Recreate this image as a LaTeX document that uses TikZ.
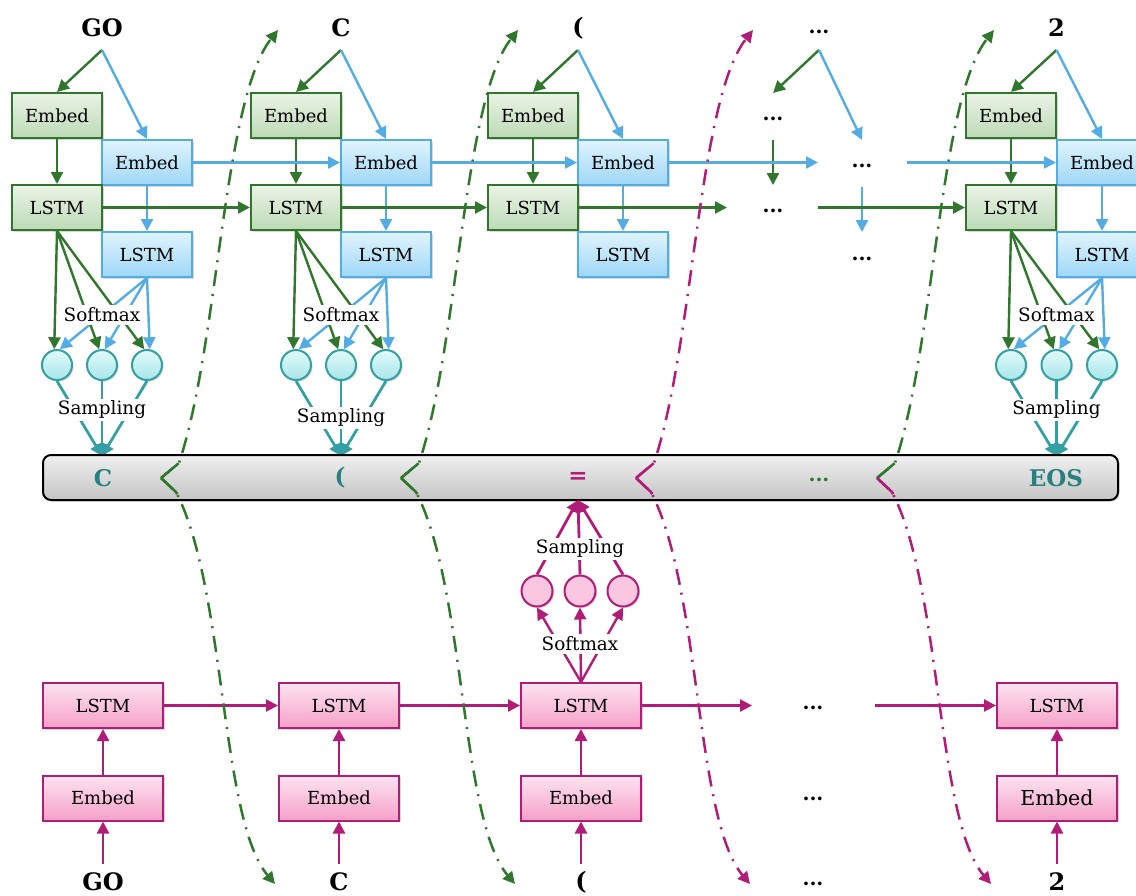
\documentclass[tikz,border=0pt]{standalone}
\usepackage{fontspec}
\setmainfont{DejaVu Serif}
\usetikzlibrary{arrows.meta,shadows}
\definecolor{gdark}{RGB}{48,118,45}
\definecolor{gtop}{RGB}{234,243,230}
\definecolor{gbot}{RGB}{188,218,182}
\definecolor{bline}{RGB}{84,172,228}
\definecolor{btop}{RGB}{224,244,254}
\definecolor{bbot}{RGB}{158,215,247}
\definecolor{tline}{RGB}{52,160,164}
\definecolor{ttop}{RGB}{226,250,250}
\definecolor{tbot}{RGB}{168,230,234}
\definecolor{ttxt}{RGB}{40,128,128}
\definecolor{mag}{RGB}{176,28,120}
\definecolor{ptop}{RGB}{253,228,240}
\definecolor{pbot}{RGB}{245,160,200}
\definecolor{pcirc}{RGB}{250,198,224}
\definecolor{bartop}{RGB}{240,240,240}
\definecolor{barbot}{RGB}{196,196,196}
\newcommand{\boxfont}{\fontsize{9}{11}\selectfont}
\newcommand{\topcol}[4]{%
  \node[lbl] (t#1) at ({(#2+#3)/2},28) {#4};
  \coordinate (ts#1) at ({(#2+#3)/2},50);
  \node[gbox] (ge#1) at (#2,115.5) {Embed};
  \node[bbox] (be#1) at (#3,162.5) {Embed};
  \node[gbox] (gl#1) at (#2,207.5) {LSTM};
  \node[bbox] (bl#1) at (#3,254.5) {LSTM};
  \draw[garr] (ts#1) -- (ge#1.north);
  \draw[barr] (ts#1) -- (be#1.north);
  \draw[garr] (ge#1) -- (gl#1);
  \draw[barr] (be#1) -- (bl#1);
}
\newcommand{\smcol}[4]{%
  \node[tcirc] (c#1a) at (#2,365) {};
  \node[tcirc] (c#1b) at ({(#2+#3)/2},365) {};
  \node[tcirc] (c#1c) at (#3,365) {};
  \coordinate (bt#1) at ({(#2+#3)/2},456);
  \foreach \nm in {a,b,c} {
    \draw[garr] (gl#1.south) -- (c#1\nm.100);
    \draw[barr] (bl#1.south) -- (c#1\nm.80);
    \draw[tarr] (c#1\nm.south) -- (bt#1);
  }
  \node[smx] (sm#1) at ({(#2+#3)/2},315) {Softmax};
  \node[smx] (sa#1) at ({(#2+#3)/2},#4) {Sampling};
}
\begin{document}
\begin{tikzpicture}[x=0.5pt,y=-0.5pt,
  shad/.style={drop shadow={opacity=0.3,shadow xshift=0.8pt,shadow yshift=-0.8pt}},
  gbox/.style={draw=gdark,line width=1pt,top color=gtop,bottom color=gbot,minimum width=45pt,minimum height=22.5pt,inner sep=0pt,font=\boxfont,shad},
  bbox/.style={draw=bline,line width=1pt,top color=btop,bottom color=bbot,minimum width=45pt,minimum height=22.5pt,inner sep=0pt,font=\boxfont,shad},
  pbox/.style={draw=mag,line width=1pt,top color=ptop,bottom color=pbot,minimum width=60pt,minimum height=22.5pt,inner sep=0pt,font=\boxfont,shad},
  tcirc/.style={circle,draw=tline,line width=1pt,top color=ttop,bottom color=tbot,minimum size=15pt,inner sep=0pt,shad},
  pcircs/.style={circle,draw=mag,line width=1pt,fill=pcirc,minimum size=15.5pt,inner sep=0pt,shad},
  tip/.style={-{Triangle[length=6pt,width=6pt]}},
  garr/.style={draw=gdark,line width=1.2pt,tip},
  barr/.style={draw=bline,line width=1.2pt,tip},
  tarr/.style={draw=tline,line width=1.4pt,tip},
  parr/.style={draw=mag,line width=1.2pt,tip},
  lbl/.style={font=\bfseries\fontsize{12}{14}\selectfont,inner sep=1pt},
  dots/.style={font=\bfseries\fontsize{10}{12}\selectfont,inner sep=1pt},
  smx/.style={fill=white,inner sep=1.2pt,font=\fontsize{9.2}{11}\selectfont},
  bartxt/.style={font=\bfseries\fontsize{11.5}{13}\selectfont,inner sep=1pt},
  curv/.style={line width=1.25pt,dash pattern=on 8pt off 4pt on 1pt off 4pt,tip},
  arm/.style={line width=1.25pt,dash pattern=on 11.5pt off 2000pt}
]
\clip (0,0) rectangle (1136,895);
\fill[white] (0,0) rectangle (1136,895);

% ---------- top encoder columns ----------
\topcol{1}{57}{147}{GO}
\topcol{2}{296}{386}{C}
\topcol{3}{533}{623}{(}
\topcol{5}{1011}{1102}{2}

% column of dots
\node[dots] (t4) at (819,32) {...};
\coordinate (ts4) at (819,50);
\coordinate (g4a) at (773,93);
\coordinate (b4a) at (862,140);
\node[dots] (gd4e) at (773,119) {...};
\node[dots] (bd4e) at (862,166) {...};
\node[dots] (gd4l) at (773,211) {...};
\node[dots] (bd4l) at (862,259) {...};
\coordinate (g4b) at (773,140);
\coordinate (g4c) at (773,185);
\coordinate (b4b) at (862,187);
\coordinate (b4c) at (862,232);
\draw[garr] (ts4) -- (g4a);
\draw[barr] (ts4) -- (b4a);
\draw[garr] (g4b) -- (g4c);
\draw[barr] (b4b) -- (b4c);

% horizontal recurrences
\draw[barr] (be1) -- (be2);
\draw[barr] (be2) -- (be3);
\coordinate (bh1) at (818,162.5);
\coordinate (bh2) at (907,162.5);
\draw[barr] (be3) -- (bh1);
\draw[barr] (bh2) -- (be5);
\draw[garr] (gl1) -- (gl2);
\draw[garr] (gl2) -- (gl3);
\coordinate (gh1) at (727,207.5);
\coordinate (gh2) at (818,207.5);
\draw[garr] (gl3) -- (gh1);
\draw[garr] (gh2) -- (gl5);

% softmax / sampling
\smcol{1}{57}{147}{410}
\smcol{2}{296}{386}{418}
\smcol{5}{1011}{1102}{410}

% ---------- output bar ----------
\node[draw=black,line width=1pt,rounded corners=4pt,top color=bartop,bottom color=barbot,
      minimum width=537.5pt,minimum height=22.5pt,inner sep=0pt,shad] (bar) at (580.5,477.5) {};
\node[bartxt,text=ttxt] (o1) at (103,478) {C};
\node[bartxt,text=ttxt] (o2) at (340,478) {(};
\node[bartxt,text=mag] (o3) at (578,478) {=};
\node[dots,text=gdark] (o4) at (819,480) {...};
\node[bartxt,text=ttxt] (o5) at (1056,478) {EOS};

% ---------- bottom decoder ----------
\node[pbox] (pl1) at (103,705.5) {LSTM};
\node[pbox] (pl2) at (339,705.5) {LSTM};
\node[pbox] (pl3) at (581,705.5) {LSTM};
\node[pbox] (pl5) at (1057,705.5) {LSTM};
\node[pbox] (pe1) at (103,798) {Embed};
\node[pbox] (pe2) at (339,798) {Embed};
\node[pbox] (pe3) at (581,798) {Embed};
\node[pbox,font=\fontsize{10.3}{12}\selectfont] (pe5) at (1057,798) {Embed};
\node[dots] (pd4l) at (813,708) {...};
\node[dots] (pd4e) at (813,799) {...};
\node[lbl] (in1) at (103,882) {GO};
\node[lbl] (in2) at (339,882) {C};
\node[lbl] (in3) at (581,882) {(};
\node[dots] (in4) at (813,884) {...};
\node[lbl] (in5) at (1057,882) {2};
\coordinate (ia1) at (103,864);
\coordinate (ia2) at (339,864);
\coordinate (ia3) at (581,864);
\coordinate (ia5) at (1057,864);
\foreach \i in {1,2,3,5} {
  \draw[parr] (ia\i) -- (pe\i.south);
  \draw[parr] (pe\i) -- (pl\i);
}
\draw[parr] (pl1) -- (pl2);
\draw[parr] (pl2) -- (pl3);
\coordinate (ph1) at (752,705.5);
\coordinate (ph2) at (875,705.5);
\draw[parr] (pl3) -- (ph1);
\draw[parr] (ph2) -- (pl5);

% decoder softmax / sampling at column 3
\node[pcircs] (pca) at (537,591) {};
\node[pcircs] (pcb) at (580,591) {};
\node[pcircs] (pcc) at (623,591) {};
\coordinate (bb3) at (578,500);
\foreach \nm in {a,b,c} {
  \draw[parr] (pl3.north) -- (pc\nm.south);
  \draw[parr,line width=1.4pt] (pc\nm.north) -- (bb3);
}
\node[smx] (psm) at (580,644) {Softmax};
\node[smx] (psa) at (580,549) {Sampling};

% ---------- feedback curves ----------
\coordinate (v1) at (161,478);
\coordinate (v2) at (401,478);
\coordinate (v3) at (636,478);
\coordinate (v4) at (877,478);
\coordinate (u1) at (278,30);
\coordinate (u2) at (518,30);
\coordinate (u3) at (753,30);
\coordinate (u4) at (994,30);
\coordinate (d1) at (275,884);
\coordinate (d2) at (515,884);
\coordinate (d3) at (750,884);
\coordinate (d4) at (991,884);
\foreach \i/\cu/\cd in {1/gdark/gdark,2/gdark/gdark,3/mag/mag,4/gdark/mag} {
  \draw[curv,draw=\cu] (v\i) -- ++(18,-15) .. controls +(40,-120) and +(-55,70) .. (u\i);
  \draw[arm,draw=\cu] (v\i) -- ++(18,-15) .. controls +(40,-120) and +(-55,70) .. (u\i);
  \draw[curv,draw=\cd] (v\i) -- ++(15,14) .. controls +(50,96) and +(-55,-65) .. (d\i);
  \draw[arm,draw=\cd] (v\i) -- ++(15,14) .. controls +(50,96) and +(-55,-65) .. (d\i);
}
\end{tikzpicture}
\end{document}
